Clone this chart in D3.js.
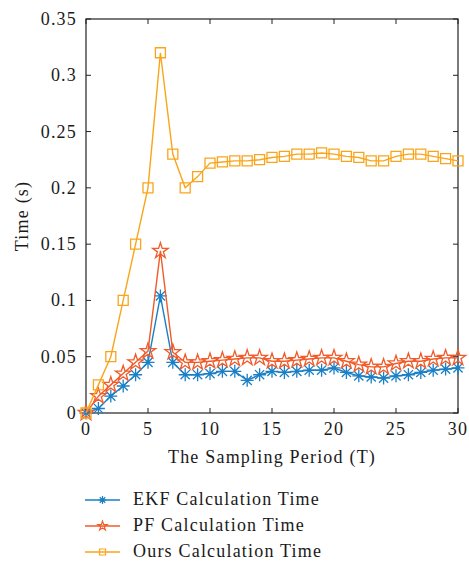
<!DOCTYPE html>
<html>
<head>
<meta charset="utf-8">
<script src="https://cdn.jsdelivr.net/npm/d3@7"></script>
<style>
  body { margin: 0; background: #fff; }
  text { font-family: "Liberation Serif", "DejaVu Serif", serif; fill: #1a1a1a; font-size: 18px; letter-spacing: 1.2px; }
</style>
</head>
<body>
<div id="chart"></div>
<script>
// data
var periods = d3.range(0, 31);
var ekf = [0, 0.004, 0.015, 0.024, 0.034, 0.045, 0.104, 0.045, 0.034, 0.034, 0.035,
  0.037, 0.037, 0.029, 0.034, 0.037, 0.036, 0.037, 0.038, 0.038, 0.040,
  0.036, 0.033, 0.032, 0.031, 0.033, 0.034, 0.036, 0.038, 0.039, 0.040];
var pf = [0, 0.015, 0.025, 0.035, 0.045, 0.055, 0.144, 0.054, 0.045, 0.045, 0.046,
  0.047, 0.048, 0.049, 0.049, 0.046, 0.046, 0.047, 0.048, 0.049, 0.049,
  0.046, 0.043, 0.041, 0.041, 0.044, 0.046, 0.046, 0.048, 0.049, 0.049];
var ours = [0, 0.025, 0.05, 0.1, 0.15, 0.2, 0.32, 0.23, 0.2, 0.21, 0.222,
  0.223, 0.224, 0.224, 0.225, 0.227, 0.228, 0.23, 0.23, 0.231, 0.23,
  0.228, 0.227, 0.224, 0.224, 0.228, 0.23, 0.23, 0.228, 0.226, 0.224];
var seriesNames = ["EKF Calculation Time", "PF Calculation Time", "Ours Calculation Time"];
var xTicks = [0, 5, 10, 15, 20, 25, 30];
var yTicks = [0, 0.05, 0.1, 0.15, 0.2, 0.25, 0.3, 0.35];

var width = 469, height = 562;
var plotL = 86, plotR = 458, plotT = 19, plotB = 413;   // plot box in pixels

var svg = d3.select("#chart").append("svg")
  .attr("width", width)
  .attr("height", height);

var x = d3.scaleLinear().domain([0, 30]).range([plotL, plotR]);
var y = d3.scaleLinear().domain([0, 0.35]).range([plotB, plotT]);

// box
svg.append("rect")
  .attr("x", plotL).attr("y", plotT)
  .attr("width", plotR - plotL).attr("height", plotB - plotT)
  .attr("fill", "none").attr("stroke", "#222").attr("stroke-width", 1.2);

// inward ticks on all four sides
var tickLen = 5;
svg.selectAll(".xt").data(xTicks).enter().append("path")
  .attr("d", function (d) {
    return "M" + x(d) + "," + plotB + "v" + (-tickLen) + "M" + x(d) + "," + plotT + "v" + tickLen;
  })
  .attr("stroke", "#222").attr("stroke-width", 1);
svg.selectAll(".yt").data(yTicks).enter().append("path")
  .attr("d", function (d) {
    return "M" + plotL + "," + y(d) + "h" + tickLen + "M" + plotR + "," + y(d) + "h" + (-tickLen);
  })
  .attr("stroke", "#222").attr("stroke-width", 1);

svg.selectAll(".xl").data(xTicks).enter().append("text")
  .attr("x", function (d) { return x(d); })
  .attr("y", plotB + 22)
  .attr("text-anchor", "middle")
  .text(function (d) { return d; });

svg.selectAll(".yl").data(yTicks).enter().append("text")
  .attr("x", plotL - 9)
  .attr("y", function (d) { return y(d) + 6; })
  .attr("text-anchor", "end")
  .text(function (d) { return d; });

svg.append("text")
  .attr("x", (plotL + plotR) / 2)
  .attr("y", plotB + 50)
  .attr("text-anchor", "middle")
  .text("The Sampling Period (T)");

svg.append("text")
  .attr("transform", "translate(28," + (plotT + plotB) / 2 + ") rotate(-90)")
  .attr("text-anchor", "middle")
  .text("Time (s)");

// marker shapes
function asterisk(r) {
  var s = "";
  for (var i = 0; i < 4; i++) {
    var a = i * Math.PI / 4;
    var dx = r * Math.cos(a), dy = r * Math.sin(a);
    s += "M" + (-dx) + "," + (-dy) + "L" + dx + "," + dy;
  }
  return s;
}
var starPath = d3.symbol().type(d3.symbolStar).size(75)();
var squarePath = d3.symbol().type(d3.symbolSquare).size(100)();

var series = [
  { name: seriesNames[0], values: ekf, color: "#1a7fc4", marker: asterisk(6.5) },
  { name: seriesNames[1], values: pf, color: "#f15a29", marker: starPath },
  { name: seriesNames[2], values: ours, color: "#f9a51b", marker: squarePath }
];

var line = d3.line()
  .x(function (d, i) { return x(periods[i]); })
  .y(function (d) { return y(d); });

series.forEach(function (s) {
  var g = svg.append("g");
  g.append("path")
    .attr("d", line(s.values))
    .attr("fill", "none")
    .attr("stroke", s.color)
    .attr("stroke-width", 1.4);
  g.selectAll("path.m").data(s.values).enter().append("path")
    .attr("class", "m")
    .attr("transform", function (d, i) { return "translate(" + x(periods[i]) + "," + y(d) + ")"; })
    .attr("d", s.marker)
    .attr("fill", "none")
    .attr("stroke", s.color)
    .attr("stroke-width", 1.3);
});

// legend
var legend = svg.append("g");
series.forEach(function (s, i) {
  var ly = 500 + i * 26;
  legend.append("line")
    .attr("x1", 85).attr("x2", 120).attr("y1", ly).attr("y2", ly)
    .attr("stroke", s.color).attr("stroke-width", 1.5);
  legend.append("path")
    .attr("transform", "translate(102.5," + ly + ") scale(0.6)")
    .attr("d", s.marker)
    .attr("fill", "none")
    .attr("stroke", s.color)
    .attr("stroke-width", 2);
  legend.append("text")
    .attr("x", 133).attr("y", ly + 5)
    .text(s.name);
});
</script>
</body>
</html>
